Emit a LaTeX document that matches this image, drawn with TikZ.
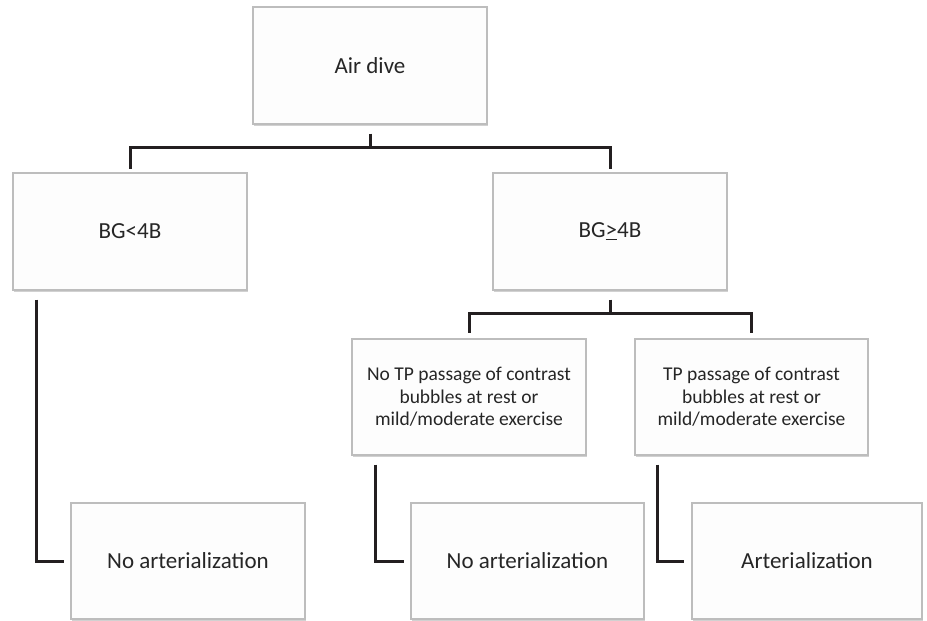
\documentclass[tikz,border=0pt]{standalone}
\usepackage{fontspec}
\setmainfont{Carlito}
\usetikzlibrary{shadows}
\definecolor{boxline}{HTML}{BDBDBD}
\definecolor{boxfill}{HTML}{FDFDFD}
\definecolor{connline}{HTML}{231F20}
\tikzset{
  box/.style={draw=boxline, line width=1.1pt, fill=boxfill, inner sep=0pt,
    minimum height=116pt, align=center, font=\fontsize{23}{27}\selectfont, text=black!85,
    drop shadow={shadow xshift=0.8pt, shadow yshift=-1.5pt, fill=black!30, opacity=0.6}},
  smallbox/.style={box, font=\fontsize{19.5}{22.5}\selectfont},
  conn/.style={draw=connline, line width=3pt}
}
\begin{document}
\begin{tikzpicture}[x=1pt,y=-1pt]
\useasboundingbox (0,0) rectangle (927,621);
\node[box, minimum width=234pt, minimum height=117pt] (air) at (370,65.5) {Air dive};
\node[box, minimum width=234pt, minimum height=117pt] (bgl) at (130,231.5) {BG<4B};
\node[box, minimum width=234pt, minimum height=117pt] (bgg) at (610,231.5) {BG\underline{>}4B};
\node[smallbox, minimum width=234pt] (tpn) at (469,397) {No TP passage of contrast\\bubbles at rest or\\mild/moderate exercise};
\node[smallbox, minimum width=233pt] (tpy) at (751.5,397) {TP passage of contrast\\bubbles at rest or\\mild/moderate exercise};
\node[box, minimum width=234pt] (na1) at (188,561) {No arterialization};
\node[box, minimum width=233pt] (na2) at (527.5,561) {No arterialization};
\node[box, minimum width=230pt] (art) at (807,561) {Arterialization};
% top split
\coordinate (j1) at ([yshift=-23pt]air.south);
\draw[conn] ([yshift=-9pt]air.south) -- (j1);
\draw[conn] ([yshift=3.5pt]bgl.north) |- (j1) -| ([yshift=3.5pt]bgg.north);
% second split
\coordinate (j2) at ([yshift=-23pt]bgg.south);
\draw[conn] ([yshift=-9pt]bgg.south) -- (j2);
\draw[conn] ([yshift=5.5pt]tpn.north) |- (j2) -| ([yshift=5.5pt]tpy.north);
% elbows to leaves
\draw[conn] ([xshift=24.5pt,yshift=-9pt]bgl.south west) |- ([xshift=-6pt]na1.west);
\draw[conn] ([xshift=24.5pt,yshift=-9pt]tpn.south west) |- ([xshift=-6.5pt]na2.west);
\draw[conn] ([xshift=23pt,yshift=-9pt]tpy.south west) |- ([xshift=-7pt]art.west);
\end{tikzpicture}
\end{document}
